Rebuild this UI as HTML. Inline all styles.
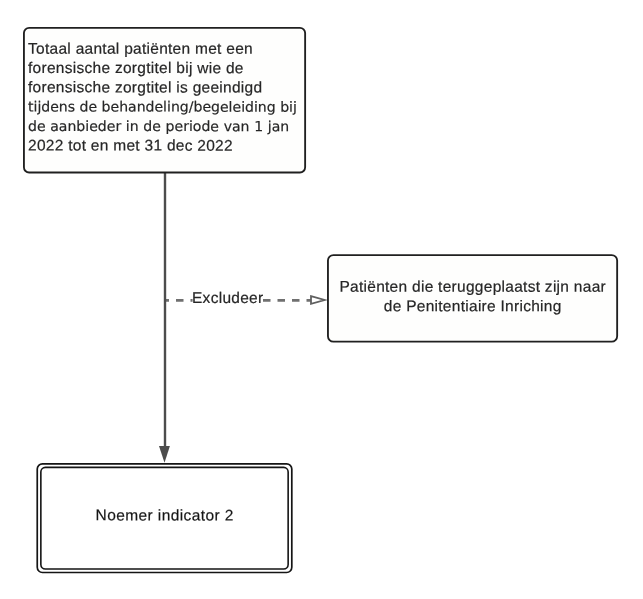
<!DOCTYPE html>
<html lang="nl">
<head>
<meta charset="utf-8">
<title>Noemer indicator 2</title>
<style>
  html, body { margin: 0; padding: 0; background: #ffffff; }
  body { width: 643px; height: 599px; position: relative; overflow: hidden;
         font-family: "Liberation Sans", sans-serif; color: #262626;
         text-rendering: geometricPrecision; }
  svg.shapes { position: absolute; left: 0; top: 0; }
  .ln { position: absolute; white-space: nowrap; height: 20px; line-height: 20px;
        font-size: 15.5px; letter-spacing: 0.28px; -webkit-text-stroke: 0.2px #262626; }
  .dv { font-family: "DejaVu Sans", sans-serif; font-size: 14.05px; letter-spacing: 0; }
  #txt { position: absolute; left: 0; top: 0; width: 643px; height: 599px; will-change: transform; }
  .a { left: 28.2px; }
  .c2 { left: 328px; width: 289.4px; text-align: center; }
  .c3 { left: 37px; width: 255.4px; text-align: center; color: #151515; letter-spacing: 0.4px; }
  .lbl { left: 191.5px; }
</style>
</head>
<body>
<svg class="shapes" width="643" height="599" viewBox="0 0 643 599">
  <!-- dashed connector -->
  <line x1="165" y1="300.4" x2="311" y2="300.4" stroke="#707070" stroke-width="2.8" stroke-dasharray="7.5 7" stroke-dashoffset="3.5"/>
  <polygon points="311,296.2 324.6,300 311,303.8" fill="#fff" stroke="#606060" stroke-width="1.8" stroke-linejoin="miter"/>
  <rect x="192.6" y="290" width="70" height="17" fill="#fff"/>
  <!-- vertical connector -->
  <line x1="165" y1="173" x2="165" y2="448" stroke="#4c4c4c" stroke-width="2.4"/>
  <polygon points="159,446 169.9,446 164.5,462.8" fill="#4c4c4c"/>
  <!-- top box -->
  <rect x="23.93" y="27.9" width="281.2" height="144.65" rx="5.2" ry="5.2" fill="#fefefd" stroke="#202020" stroke-width="1.85"/>
  <!-- right box -->
  <rect x="327.95" y="255.05" width="289.2" height="86.6" rx="5.5" ry="5.5" fill="#fefefd" stroke="#202020" stroke-width="1.85"/>
  <!-- bottom double box -->
  <rect x="37.25" y="463.9" width="254.55" height="108.6" rx="5.2" ry="5.2" fill="#fff" stroke="#151515" stroke-width="1.7"/>
  <rect x="40.85" y="467.4" width="247.3" height="101.55" rx="4.5" ry="4.5" fill="#fff" stroke="#151515" stroke-width="1.6"/>
</svg>
<div id="txt">
<div class="ln a" style="top:39px;transform:matrix(1,0.0005,0,1,0,0.7)">Totaal aantal patiënten met een</div>
<div class="ln a" style="top:59px;transform:matrix(1,0.0005,0,1,0,0.1)">forensische zorgtitel bij wie de</div>
<div class="ln a" style="top:78px;transform:matrix(1,0.0005,0,1,0,0.4)">forensische zorgtitel is geeindigd</div>
<div class="ln a dv" style="top:97px;transform:matrix(1,0.0005,0,1,0,0.6)">tijdens de behandeling/begeleiding bij</div>
<div class="ln a dv" style="word-spacing:0.22px;top:117px;transform:matrix(1,0.0005,0,1,0,0.1)">de aanbieder in de periode van 1 jan</div>
<div class="ln a" style="top:136px;transform:matrix(1,0.0005,0,1,0,0.6)">2022 tot en met 31 dec 2022</div>
<div class="ln lbl" style="top:288px;transform:matrix(1,0.0005,0,1,0,0.9)">Excludeer</div>
<div class="ln c2" style="top:277px;transform:matrix(1,0.0005,0,1,0,0.8)">Patiënten die teruggeplaatst zijn naar</div>
<div class="ln c2" style="top:297px;transform:matrix(1,0.0005,0,1,0,0.2)">de Penitentiaire Inriching</div>
<div class="ln c3" style="top:506px;transform:matrix(1,0.0005,0,1,0,0.4)">Noemer indicator 2</div>
</div>
</body>
</html>
